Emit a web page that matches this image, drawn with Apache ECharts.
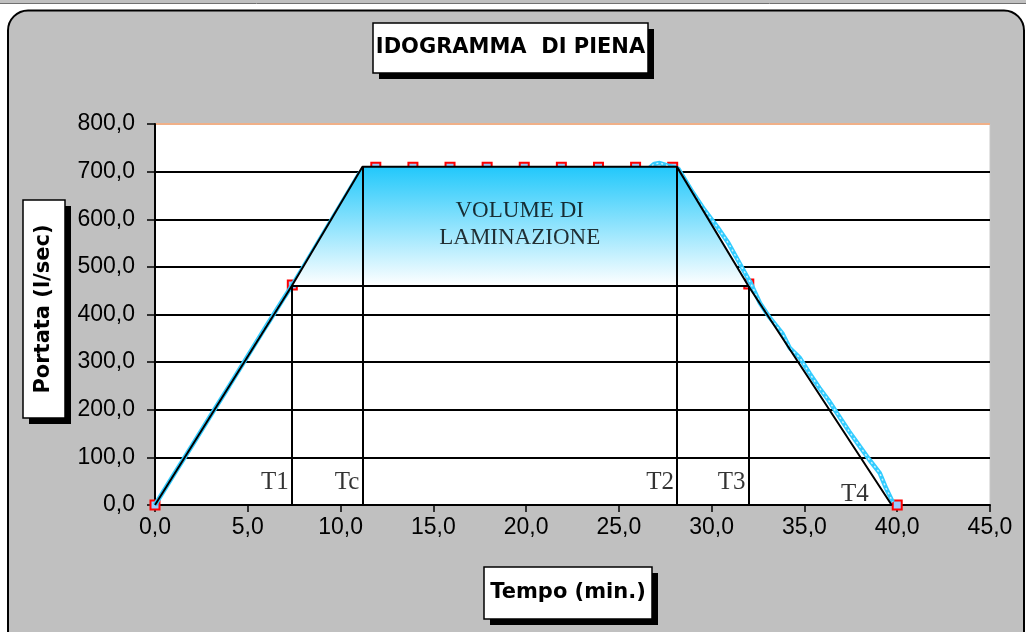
<!DOCTYPE html>
<html>
<head>
<meta charset="utf-8">
<script src="https://cdn.jsdelivr.net/npm/echarts@6/dist/echarts.min.js"></script>
<style>
  html, body { margin: 0; padding: 0; background: #fff; }
  #chart { width: 1026px; height: 632px; }
</style>
</head>
<body>
<div id="chart"></div>
<script>
// tempi caratteristici (min)
const T1 = 7.37, Tc = 11.18, T2 = 28.13, T3 = 31.98, T4 = 39.7
// portate (l/sec)
const Qmax = 710, Qlam = 460

// idrogramma trapezio
const trapezio = [[0, 0], [T1, Qlam], [Tc, Qmax], [T2, Qmax], [T3, Qlam], [T4, 0]]
// volume di laminazione
const laminazione = [[T1, Qlam], [Tc, Qmax], [T2, Qmax], [T3, Qlam]]
// punti quadrati rossi
const puntiX = [0, 7.4, 11.9, 13.9, 15.9, 17.9, 19.9, 21.9, 23.9, 25.9, 27.9, 32.0, 40.0]
const puntiY = [0, 462, 709, 709, 709, 709, 709, 709, 709, 709, 709, 464, 0]
// idrogramma calcolato (azzurro)
const calcX = [0, 1, 2, 3, 4, 5, 6, 7, 7.5, 8, 9, 10, 11, 11.3, 26.6, 26.9, 27.2, 27.6, 28.2, 29, 29.6, 30.3, 30.9, 31.4, 32.1, 32.6, 33.1, 33.8, 34.2, 34.75, 35.3, 35.8, 36.3, 36.75, 37.4, 38, 38.5, 39.06, 39.4, 39.76]
const calcY = [0, 63, 125, 188, 250, 313, 376, 438, 468, 500, 565, 630, 695, 706, 706, 716, 718, 713, 706, 655, 620, 584, 550, 515, 466, 424, 395, 361, 330, 309, 275, 246, 220, 193, 155, 122, 95, 67, 35, 6]
// etichette
const etichette = ['T1', 'Tc', 'T2', 'T3', 'T4']
const etichetteX = [T1, Tc, T2, T3, T4]
const etichetteY = [48, 48, 48, 48, 23]

const fmt = v => v.toFixed(1).replace('.', ',')

const chart = echarts.init(document.getElementById('chart'))

// box con ombra (titoli)
function box (x, y, w, h, text, rotate) {
  return {
    type: 'group',
    children: [
      { type: 'rect', shape: { x: x + 6, y: y + 6, width: w, height: h }, style: { fill: '#000' } },
      { type: 'rect', shape: { x: x, y: y, width: w, height: h }, style: { fill: '#fff', stroke: '#000', lineWidth: 1.5 } },
      {
        type: 'text',
        x: x + w / 2,
        y: y + h / 2,
        rotation: rotate ? Math.PI / 2 : 0,
        style: {
          text: text,
          fontFamily: 'DejaVu Sans',
          fontWeight: 'bold',
          fontSize: 21,
          fill: '#000',
          align: 'center',
          verticalAlign: 'middle'
        }
      }
    ]
  }
}

chart.setOption({
  animation: false,
  backgroundColor: '#fff',
  graphic: [
    { type: 'rect', z: -10, shape: { x: 0, y: 0, width: 1026, height: 3 }, style: { fill: '#c0c0c0' } },
    { type: 'line', z: -10, shape: { x1: 0, y1: 3.5, x2: 1026, y2: 3.5 }, style: { stroke: '#707070', lineWidth: 1 } },
    { type: 'rect', z: -10, shape: { x: 8, y: 10.5, width: 1016, height: 640, r: 20 }, style: { fill: '#c0c0c0', stroke: '#000', lineWidth: 2 } },
    box(373, 23, 275, 50, 'IDOGRAMMA  DI PIENA'),
    box(23, 200, 42, 218, 'Portata (l/sec)', true),
    box(484, 567, 168, 52, 'Tempo (min.)')
  ],
  grid: {
    left: 155,
    right: 36,
    top: 124,
    bottom: 127,
    show: true,
    backgroundColor: '#fff',
    borderColor: '#c8c8c8',
    borderWidth: 1
  },
  xAxis: {
    type: 'value',
    min: 0,
    max: 45,
    interval: 5,
    axisLine: { lineStyle: { color: '#000', width: 2 } },
    axisTick: { length: 7, lineStyle: { color: '#000', width: 1.5 } },
    axisLabel: { formatter: fmt, margin: 11, fontFamily: 'Liberation Sans', fontSize: 23, color: '#000' },
    splitLine: { show: false }
  },
  yAxis: {
    type: 'value',
    min: 0,
    max: 800,
    interval: 100,
    axisLine: { show: true, lineStyle: { color: '#000', width: 2 } },
    axisTick: { show: true, length: 8, lineStyle: { color: '#000', width: 1.5 } },
    axisLabel: { formatter: fmt, margin: 20, fontFamily: 'Liberation Sans', fontSize: 23, color: '#000' },
    splitLine: {
      lineStyle: {
        color: ['#000', '#000', '#000', '#000', '#000', '#000', '#000', '#000', '#f0b088'],
        width: 1.8
      }
    }
  },
  series: [
    {
      name: 'punti',
      type: 'line',
      z: 1,
      data: puntiX.map((x, i) => [x, puntiY[i]]),
      symbol: 'rect',
      symbolSize: 9,
      lineStyle: { width: 0, opacity: 0 },
      itemStyle: { color: '#99ccff', borderColor: '#ff0000', borderWidth: 2 }
    },
    {
      name: 'calcolato',
      type: 'line',
      z: 2,
      data: calcX.map((x, i) => [x, calcY[i]]),
      symbol: 'none',
      lineStyle: { color: '#33ccff', width: 4.5 }
    },
    {
      name: 'calcolato2',
      type: 'line',
      z: 2,
      data: calcX.map((x, i) => [x, calcY[i]]),
      symbol: 'none',
      lineStyle: { color: '#c8f2ff', width: 1.5, type: [2, 3] }
    },
    {
      name: 'laminazione',
      type: 'line',
      z: 3,
      data: laminazione,
      symbol: 'none',
      lineStyle: { width: 0, opacity: 0 },
      areaStyle: {
        origin: Qlam,
        opacity: 1,
        color: new echarts.graphic.LinearGradient(0, 0, 0, 1, [
          { offset: 0, color: '#22c8fb' },
          { offset: 1, color: '#ffffff' }
        ])
      }
    },
    {
      name: 'trapezio',
      type: 'line',
      z: 4,
      data: trapezio,
      symbol: 'none',
      lineStyle: { color: '#000', width: 2 },
      markLine: {
        silent: true,
        symbol: 'none',
        label: { show: false },
        lineStyle: { color: '#000', width: 2, type: 'solid' },
        data: [
          [{ coord: [T1, 0] }, { coord: [T1, Qlam] }],
          [{ coord: [Tc, 0] }, { coord: [Tc, Qmax] }],
          [{ coord: [T2, 0] }, { coord: [T2, Qmax] }],
          [{ coord: [T3, 0] }, { coord: [T3, Qlam] }],
          [{ coord: [T1, Qlam] }, { coord: [T3, Qlam] }]
        ]
      }
    },
    {
      name: 'etichette',
      type: 'scatter',
      z: 5,
      symbolSize: 0,
      data: etichette.map((t, i) => ({
        value: [etichetteX[i], etichetteY[i]],
        label: i === 4 ? { offset: [-20, 0] } : {}
      })),
      label: {
        show: true,
        position: 'left',
        distance: 3,
        formatter: p => etichette[p.dataIndex],
        fontFamily: 'Liberation Serif',
        fontSize: 25,
        color: '#000'
      }
    },
    {
      name: 'volume',
      type: 'scatter',
      z: 5,
      symbolSize: 0,
      data: [[(Tc + T2) / 2, 590]],
      label: {
        show: true,
        position: 'inside',
        formatter: 'VOLUME DI\nLAMINAZIONE',
        fontFamily: 'Liberation Serif',
        fontSize: 23,
        lineHeight: 27,
        color: '#000'
      }
    }
  ]
})
</script>
</body>
</html>
